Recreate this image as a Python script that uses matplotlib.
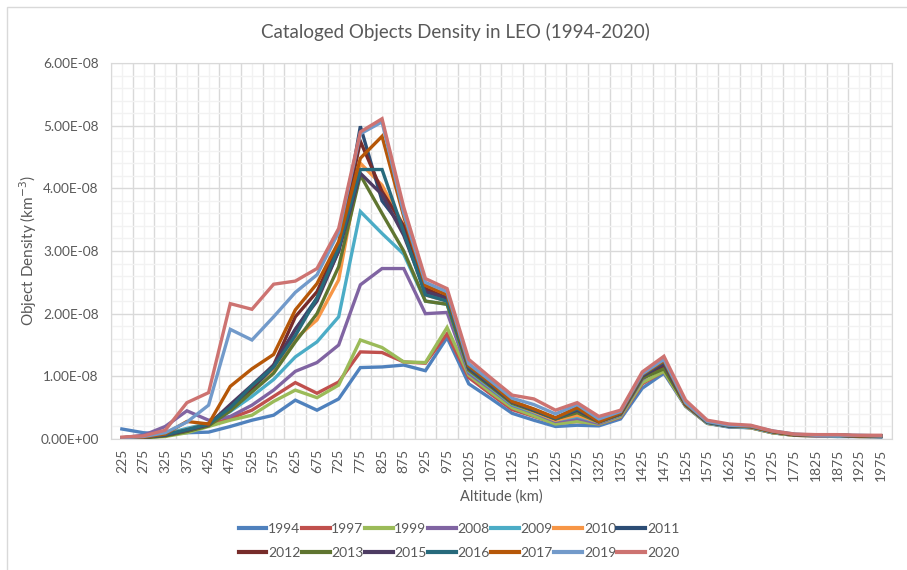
import matplotlib
matplotlib.use("Agg")
import matplotlib.pyplot as plt
from matplotlib.patches import Rectangle
from matplotlib.ticker import MultipleLocator, FuncFormatter

plt.rcParams['font.family'] = ['Lato', 'DejaVu Sans']

# altitude bins (km)
altitudes = [225, 275, 325, 375, 425, 475, 525, 575, 625, 675, 725, 775,
             825, 875, 925, 975, 1025, 1075, 1125, 1175, 1225, 1275, 1325, 1375,
             1425, 1475, 1525, 1575, 1625, 1675, 1725, 1775, 1825, 1875, 1925, 1975]

# object density, units of 1e-8 km^-3
d1994 = [0.16, 0.10, 0.08, 0.10, 0.11, 0.20, 0.30, 0.38, 0.62, 0.46, 0.64, 1.14,
         1.15, 1.18, 1.09, 1.62, 0.88, 0.65, 0.41, 0.30, 0.20, 0.22, 0.21, 0.32,
         0.81, 1.05, 0.52, 0.25, 0.19, 0.18, 0.10, 0.06, 0.05, 0.04, 0.04, 0.03]
d1997 = [0.02, 0.03, 0.05, 0.12, 0.22, 0.33, 0.46, 0.68, 0.90, 0.73, 0.91, 1.39,
         1.38, 1.23, 1.21, 1.68, 0.98, 0.72, 0.47, 0.36, 0.25, 0.28, 0.24, 0.35,
         0.88, 1.08, 0.53, 0.25, 0.20, 0.18, 0.10, 0.06, 0.05, 0.05, 0.04, 0.04]
d1999 = [0.01, 0.02, 0.04, 0.10, 0.20, 0.30, 0.38, 0.60, 0.78, 0.66, 0.86, 1.58,
         1.46, 1.23, 1.22, 1.78, 1.02, 0.75, 0.50, 0.37, 0.24, 0.28, 0.24, 0.36,
         0.90, 1.08, 0.53, 0.25, 0.20, 0.18, 0.10, 0.06, 0.05, 0.05, 0.04, 0.04]
d2008 = [0.02, 0.06, 0.20, 0.45, 0.30, 0.36, 0.54, 0.78, 1.08, 1.22, 1.50, 2.46,
         2.72, 2.72, 2.00, 2.02, 1.05, 0.80, 0.54, 0.42, 0.28, 0.33, 0.25, 0.38,
         0.95, 1.18, 0.55, 0.26, 0.20, 0.19, 0.11, 0.07, 0.05, 0.05, 0.05, 0.04]
d2009 = [0.01, 0.03, 0.08, 0.17, 0.25, 0.44, 0.68, 0.95, 1.31, 1.55, 1.95, 3.63,
         3.28, 2.95, 2.20, 2.15, 1.08, 0.82, 0.55, 0.43, 0.30, 0.36, 0.27, 0.39,
         0.98, 1.20, 0.55, 0.26, 0.20, 0.19, 0.11, 0.07, 0.06, 0.05, 0.05, 0.04]
d2010 = [0.01, 0.03, 0.07, 0.15, 0.24, 0.52, 0.82, 1.12, 1.60, 1.90, 2.54, 4.40,
         4.05, 3.40, 2.30, 2.20, 1.10, 0.84, 0.57, 0.44, 0.30, 0.38, 0.27, 0.40,
         0.99, 1.20, 0.55, 0.27, 0.21, 0.20, 0.12, 0.07, 0.06, 0.06, 0.05, 0.05]
d2011 = [0.02, 0.03, 0.06, 0.13, 0.22, 0.50, 0.80, 1.15, 1.75, 2.25, 3.00, 4.99,
         3.80, 3.35, 2.35, 2.25, 1.12, 0.86, 0.58, 0.46, 0.33, 0.50, 0.28, 0.40,
         1.00, 1.22, 0.55, 0.27, 0.21, 0.20, 0.12, 0.07, 0.06, 0.06, 0.05, 0.05]
d2012 = [0.02, 0.03, 0.06, 0.13, 0.22, 0.52, 0.82, 1.18, 1.95, 2.35, 3.10, 4.75,
         3.95, 3.40, 2.40, 2.25, 1.12, 0.85, 0.58, 0.46, 0.32, 0.45, 0.28, 0.40,
         0.98, 1.15, 0.55, 0.27, 0.21, 0.20, 0.12, 0.07, 0.06, 0.06, 0.05, 0.05]
d2013 = [0.01, 0.02, 0.05, 0.12, 0.21, 0.45, 0.75, 1.05, 1.55, 2.00, 2.75, 4.21,
         3.60, 3.00, 2.20, 2.15, 1.10, 0.84, 0.57, 0.45, 0.32, 0.42, 0.27, 0.40,
         0.97, 1.12, 0.55, 0.27, 0.21, 0.20, 0.12, 0.07, 0.06, 0.06, 0.05, 0.05]
d2015 = [0.02, 0.03, 0.06, 0.14, 0.23, 0.55, 0.86, 1.18, 1.75, 2.20, 3.00, 4.24,
         3.90, 3.25, 2.35, 2.25, 1.13, 0.86, 0.59, 0.46, 0.33, 0.46, 0.28, 0.41,
         1.00, 1.20, 0.55, 0.27, 0.21, 0.20, 0.12, 0.07, 0.06, 0.06, 0.05, 0.05]
d2016 = [0.02, 0.03, 0.07, 0.15, 0.24, 0.50, 0.85, 1.15, 1.65, 2.25, 3.05, 4.30,
         4.30, 3.30, 2.30, 2.20, 1.15, 0.88, 0.60, 0.47, 0.33, 0.48, 0.29, 0.42,
         1.02, 1.24, 0.56, 0.27, 0.21, 0.20, 0.12, 0.07, 0.06, 0.06, 0.05, 0.05]
d2017 = [0.02, 0.03, 0.08, 0.28, 0.24, 0.84, 1.12, 1.35, 2.06, 2.48, 3.15, 4.48,
         4.83, 3.55, 2.45, 2.30, 1.17, 0.90, 0.60, 0.48, 0.34, 0.50, 0.28, 0.42,
         1.03, 1.25, 0.56, 0.28, 0.22, 0.20, 0.12, 0.07, 0.06, 0.06, 0.05, 0.05]
d2019 = [0.02, 0.04, 0.10, 0.27, 0.54, 1.75, 1.58, 1.95, 2.34, 2.62, 3.30, 4.87,
         5.06, 3.60, 2.50, 2.35, 1.20, 0.93, 0.65, 0.55, 0.40, 0.55, 0.32, 0.44,
         1.04, 1.27, 0.58, 0.28, 0.22, 0.21, 0.13, 0.08, 0.06, 0.06, 0.06, 0.05]
d2020 = [0.03, 0.05, 0.14, 0.58, 0.74, 2.16, 2.07, 2.47, 2.52, 2.72, 3.36, 4.90,
         5.11, 3.70, 2.56, 2.40, 1.27, 0.98, 0.70, 0.64, 0.46, 0.58, 0.36, 0.46,
         1.07, 1.32, 0.62, 0.30, 0.24, 0.22, 0.13, 0.08, 0.07, 0.07, 0.06, 0.06]

years = ['1994', '1997', '1999', '2008', '2009', '2010', '2011',
         '2012', '2013', '2015', '2016', '2017', '2019', '2020']
series = [d1994, d1997, d1999, d2008, d2009, d2010, d2011,
          d2012, d2013, d2015, d2016, d2017, d2019, d2020]
colors = ['#4F81BD', '#C0504D', '#9BBB59', '#8064A2', '#4BACC6', '#F79646', '#2C4D75',
          '#772C2A', '#5F7530', '#4D3B62', '#276A7C', '#B65708', '#729ACA', '#CD7371']

text_col = '#595959'

fig = plt.figure(figsize=(9.07, 5.70), dpi=100)
# chart border (top / left visible)
fig.patches.append(Rectangle((7 / 907, -0.1), 1.2, 1.0877, transform=fig.transFigure,
                             fill=False, edgecolor='#D9D9D9', linewidth=1.0))

ax = fig.add_axes([0.1224, 0.2298, 0.8606, 0.6597])

x = list(range(len(altitudes)))
handles = []
for name, vals, c in zip(years, series, colors):
    h, = ax.plot(x, [v * 1e-8 for v in vals], color=c, linewidth=2.4,
                 solid_joinstyle='miter', label=name, zorder=3)
    handles.append(h)

ax.set_xlim(-0.5, len(altitudes) - 0.5)
ax.set_ylim(0, 6e-8)

ax.set_xticks(x)
ax.set_xticklabels([str(a) for a in altitudes], rotation=90)
ax.xaxis.set_minor_locator(MultipleLocator(1, offset=0.5))
ax.yaxis.set_major_locator(MultipleLocator(1e-8))
ax.yaxis.set_minor_locator(MultipleLocator(2e-9))
ax.yaxis.set_major_formatter(FuncFormatter(lambda v, p: '{:.2E}'.format(v)))

ax.grid(which='minor', axis='x', color='#D9D9D9', linewidth=1.0, zorder=1)
ax.grid(which='major', axis='x', color='#F2F2F2', linewidth=1.0, zorder=0)
ax.grid(which='major', axis='y', color='#D9D9D9', linewidth=1.0, zorder=1)
ax.grid(which='minor', axis='y', color='#F2F2F2', linewidth=1.0, zorder=0)
ax.set_axisbelow(True)

ax.tick_params(which='both', length=0)
ax.tick_params(axis='y', pad=9, labelsize=9.8, labelcolor=text_col)
ax.tick_params(axis='x', pad=7, labelsize=10, labelcolor=text_col)
for s in ax.spines.values():
    s.set_color('#D9D9D9')

ax.set_xlabel('Altitude (km)', fontsize=10.5, color=text_col)
ax.xaxis.set_label_coords(0.5, -0.133)
ax.set_ylabel('Object Density (km$^{-3}$)', fontsize=11, color=text_col)
ax.yaxis.set_label_coords(-0.092, 0.5)

fig.text(0.5025, 0.944, 'Cataloged Objects Density in LEO (1994-2020)',
         ha='center', va='center', fontsize=13.5, color=text_col)

# legend laid out row by row, 7 per row
order = [0, 7, 1, 8, 2, 9, 3, 10, 4, 11, 5, 12, 6, 13]
leg = fig.legend([handles[i] for i in order], [years[i] for i in order],
                 loc='center', bbox_to_anchor=(0.506, 0.051), ncol=7, frameon=False,
                 fontsize=10, handlelength=2.0, handletextpad=0.12,
                 columnspacing=0.1, labelspacing=0.9, labelcolor=text_col)
for lh in leg.legend_handles:
    lh.set_linewidth(3)

fig.savefig('out.png', dpi=100)
